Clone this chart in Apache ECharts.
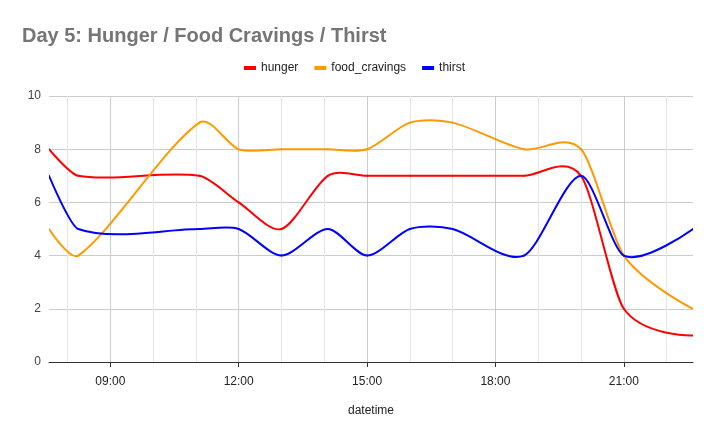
<!DOCTYPE html>
<html>
<head>
<meta charset="utf-8">
<title>Day 5: Hunger / Food Cravings / Thirst</title>
<script src="https://cdn.jsdelivr.net/npm/echarts@6/dist/echarts.min.js"></script>
<style>
  html, body { margin: 0; padding: 0; background: #fff; }
  #chart { width: 716px; height: 443px; }
</style>
</head>
<body>
<div id="chart"></div>
<script>
// Readings of the day (clock time of each entry)
const times = ['07:34', '08:15', '11:05', '12:00', '13:00', '14:05', '15:00',
               '16:00', '17:00', '18:40', '20:00', '21:00', '22:37'];
const hunger = [8, 7, 7, 6, 5, 7, 7, 7, 7, 7, 7, 2, 1];
const foodCravings = [5, 4, 9, 8, 8, 8, 8, 9, 9, 8, 8, 4, 2];
const thirst = [7, 5, 5, 5, 4, 5, 4, 5, 5, 4, 7, 4, 5];

const seriesNames = ['hunger', 'food_cravings', 'thirst'];
const seriesColors = ['#ff0000', '#ff9900', '#0000ff'];

// 'HH:MM' -> hours as a number, so the x axis can be a value axis
function toHours(t) {
  const [h, m] = t.split(':').map(Number);
  return h + m / 60;
}

function pad(n) {
  return (n < 10 ? '0' : '') + n;
}

const chart = echarts.init(document.getElementById('chart'));

/*
 * The original curve may overshoot the points a little, ECharts' own
 * smoothing clamps its control points. So each segment is drawn as a
 * bezier: slope at a point = slope between its neighbours, handles a
 * fraction of the segment width long, none at the two ends.
 * Positions come from api.coord().
 */
const HANDLE = 0.28;

const makeSeries = (name, values, color) => {
  const points = times.map((t, i) => [toHours(t), values[i]]);
  const last = points.length - 1;
  return {
    name: name,
    type: 'custom',
    data: points,
    encode: { x: 0, y: 1 },
    itemStyle: { color: color },
    clip: true,
    renderItem: (params, api) => {
      const i = params.dataIndex;
      if (i >= last) return null;
      const px = points.map((p) => api.coord(p));
      const slope = (k) => {
        if (k <= 0 || k >= last) return null;
        const a = px[k - 1];
        const b = px[k + 1];
        return (b[1] - a[1]) / (b[0] - a[0]);
      };
      const p1 = px[i];
      const p2 = px[i + 1];
      const h = (p2[0] - p1[0]) * HANDLE;
      const s1 = slope(i);
      const s2 = slope(i + 1);
      return {
        type: 'bezierCurve',
        shape: {
          x1: p1[0], y1: p1[1],
          x2: p2[0], y2: p2[1],
          cpx1: s1 === null ? p1[0] : p1[0] + h,
          cpy1: s1 === null ? p1[1] : p1[1] + s1 * h,
          cpx2: s2 === null ? p2[0] : p2[0] - h,
          cpy2: s2 === null ? p2[1] : p2[1] - s2 * h
        },
        style: { stroke: color, lineWidth: 2, fill: 'none', lineCap: 'round' },
        silent: true
      };
    }
  };
};

const option = {
  animation: false,
  backgroundColor: '#fff',
  textStyle: { fontFamily: 'Arial, "Liberation Sans", sans-serif' },
  title: {
    text: 'Day 5: Hunger / Food Cravings / Thirst',
    left: 22,
    top: 26,
    padding: 0,
    textStyle: {
      color: '#757575',
      fontSize: 20,
      fontWeight: 'bold',
      fontFamily: 'Arial, "Liberation Sans", sans-serif'
    }
  },
  legend: {
    data: seriesNames,
    left: 244,
    top: 62,
    padding: 0,
    itemGap: 16,
    itemWidth: 12,
    itemHeight: 4,
    icon: 'rect',
    textStyle: { color: '#222', fontSize: 12 }
  },
  grid: {
    left: 49,
    right: 23,
    top: 96,
    bottom: 81,
    containLabel: false
  },
  xAxis: {
    type: 'value',
    min: 'dataMin',
    max: 'dataMax',
    splitNumber: 5,
    name: 'datetime',
    nameLocation: 'middle',
    nameGap: 43,
    nameTextStyle: { color: '#222', fontSize: 12 },
    axisLine: { show: true, onZero: false, lineStyle: { color: '#333', width: 1 } },
    axisTick: { show: true, length: 5, lineStyle: { color: '#333' } },
    axisLabel: {
      color: '#222',
      fontSize: 12,
      margin: 14,
      showMinLabel: false,
      showMaxLabel: false,
      formatter: (v) => pad(Math.round(v)) + ':00'
    },
    splitLine: {
      show: true,
      showMinLine: false,
      showMaxLine: false,
      lineStyle: { color: '#cccccc', width: 1 }
    },
    minorTick: { show: false, splitNumber: 3 },
    minorSplitLine: { show: true, lineStyle: { color: '#e6e6e6', width: 1 } }
  },
  yAxis: {
    type: 'value',
    min: 0,
    max: 10,
    interval: 2,
    axisLine: { show: false },
    axisTick: { show: false },
    axisLabel: { color: '#444', fontSize: 12, margin: 8 },
    splitLine: { lineStyle: { color: '#cccccc', width: 1 } }
  },
  series: [
    makeSeries(seriesNames[0], hunger, seriesColors[0]),
    makeSeries(seriesNames[1], foodCravings, seriesColors[1]),
    makeSeries(seriesNames[2], thirst, seriesColors[2])
  ]
};

chart.setOption(option);
</script>
</body>
</html>
